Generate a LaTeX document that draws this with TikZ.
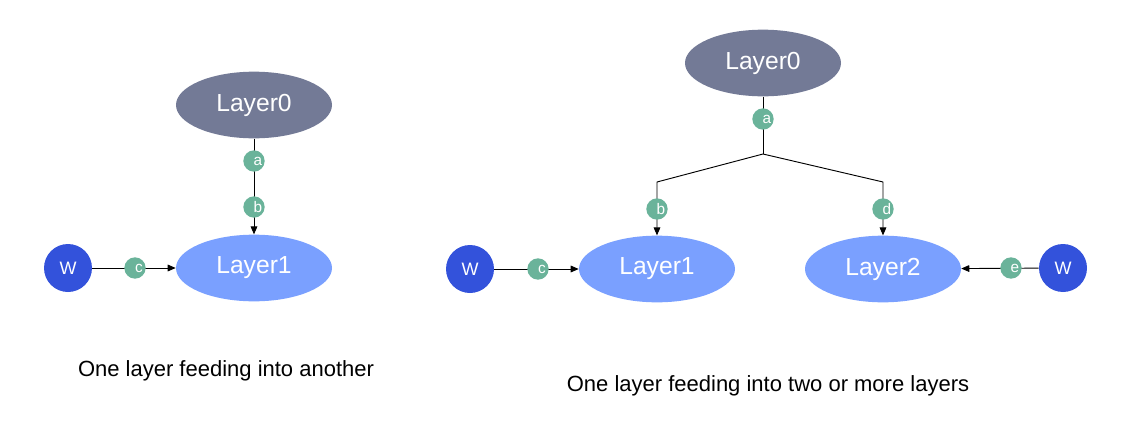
\documentclass[tikz,border=0pt]{standalone}
\usepackage{fontspec}
\setmainfont{Liberation Sans}
\usepackage{xcolor}
\usepackage{tikz}
\usetikzlibrary{arrows.meta,shapes.geometric}
\definecolor{topgray}{HTML}{737A96}
\definecolor{layerblue}{HTML}{7AA0FF}
\definecolor{wblue}{HTML}{3352DB}
\definecolor{tagteal}{HTML}{6AB39A}

\begin{document}
\begin{tikzpicture}[x=0.75pt, y=-0.75pt,
    layer/.style={ellipse, fill=layerblue, minimum width=117pt, minimum height=50pt,
                  text=white, font=\fontsize{18.5}{22}\selectfont},
    toplayer/.style={layer, fill=topgray},
    weight/.style={circle, fill=wblue, minimum size=36pt, inner sep=0pt,
                   text=white, font=\fontsize{13.5}{16}\selectfont},
    tag/.style={circle, fill=tagteal, minimum size=16pt, inner sep=0pt, text=white,
                font=\fontsize{11.5}{12}\selectfont, execute at begin node=\hspace*{6pt}},
    flow/.style={-{Triangle[length=6pt,width=5pt]}, line width=0.7pt},
    wire/.style={line width=0.7pt},
    caption/.style={font=\fontsize{16.5}{20}\selectfont}]
  \useasboundingbox (0,0) rectangle (1122,446);

  % one layer feeding into another
  \node[toplayer] (l0) at (254,105) {Layer0};
  \node[layer] (l1) at (254,268) {Layer1};
  \node[weight] (lw) at (68,268) {W};
  \draw[flow] (l0) -- (l1);
  \draw[flow] (lw) -- (l1);
  \node[tag] (la) at (254,161) {a};
  \node[tag] (lb) at (254,207) {b};
  \node[tag] (lc) at (135,268) {c};
  \node[caption] (lcap) at (226,371) {One layer feeding into another};

  % one layer feeding into two or more layers
  \node[toplayer] (r0) at (763,63) {Layer0};
  \node[layer] (r1) at (657,269) {Layer1};
  \node[layer] (r2) at (883,269) {Layer2};
  \node[weight] (rw1) at (470,269) {W};
  \node[weight] (rw2) at (1063,268) {W};
  \coordinate (fork) at (763,154);
  \coordinate (bendl) at (657,182);
  \coordinate (bendr) at (883,182);
  \draw[wire] (r0) -- (fork);
  \draw[flow] (fork) -- (bendl) -- (r1);
  \draw[flow] (fork) -- (bendr) -- (r2);
  \draw[flow] (rw1) -- (r1);
  \draw[flow] (rw2) -- (r2);
  \node[tag] (ra) at (763,119) {a};
  \node[tag] (rb) at (657,209) {b};
  \node[tag] (rc) at (538,269) {c};
  \node[tag] (rd) at (883,209) {d};
  \node[tag] (re) at (1011,268) {e};
  \node[caption] (rcap) at (768,386) {One layer feeding into two or more layers};
\end{tikzpicture}
\end{document}
